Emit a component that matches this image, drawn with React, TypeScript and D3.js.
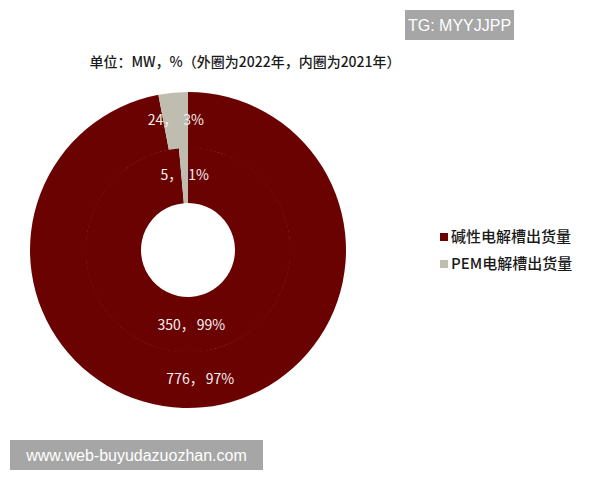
import React from "react";
import * as d3 from "d3";

const categories = ["碱性电解槽出货量", "PEM电解槽出货量"];
const outer2022 = [776, 24];
const outerPct = ["97%", "3%"];
const inner2021 = [350, 5];
const innerPct = ["99%", "1%"];
const colors = ["#6a0202", "#bebdb0"];
const title = "单位：MW，%（外圈为2022年，内圈为2021年）";

const W = 600, H = 480;
const cx = 188, cy = 250;
const rHole = 47, rMid = 102, rOuter = 158;
const font = "'Noto Sans CJK SC', 'Noto Sans', sans-serif";

export default function App() {
  const pie = d3.pie<number>().sort(null).startAngle(0).endAngle(2 * Math.PI);
  const outerArcs = pie(outer2022);
  const innerArcs = pie(inner2021);
  const outerArc = d3.arc<d3.PieArcDatum<number>>().innerRadius(rMid).outerRadius(rOuter);
  const innerArc = d3.arc<d3.PieArcDatum<number>>().innerRadius(rHole).outerRadius(rMid + 0.5);

  const label = (v: number, p: string) => (
    <>
      <tspan>{v}，</tspan>
      <tspan dx={p.length < 3 ? 6 : 2}>{p}</tspan>
    </>
  );

  return (
    <svg width={W} height={H} style={{ position: "absolute", left: 0, top: 0, background: "#fff" }}>
      <rect x={0} y={0} width={W} height={H} fill="#fff" />
      <text x={245} y={67} textAnchor="middle" fontSize={14} fontWeight={500} fontFamily={font} fill="#1a1a1a">
        {title}
      </text>
      <g transform={`translate(${cx},${cy})`}>
        {innerArcs.map((a, i) => (
          <path key={"i" + i} d={innerArc(a) || ""} fill={colors[i]} />
        ))}
        {outerArcs.map((a, i) => (
          <path key={"o" + i} d={outerArc(a) || ""} fill={colors[i]} stroke="rgba(255,255,255,0.03)" strokeWidth={0.6} />
        ))}
        {outerArcs.map((a, i) => {
          const [x, y] = outerArc.centroid(a);
          return (
            <text key={"ol" + i} x={x} y={y} dy="0.35em" textAnchor="middle" fontSize={14} fontFamily={font} fill="#f6f0f0">
              {label(outer2022[i], outerPct[i])}
            </text>
          );
        })}
        {innerArcs.map((a, i) => {
          const [x, y] = innerArc.centroid(a);
          return (
            <text key={"il" + i} x={x} y={y} dy="0.35em" textAnchor="middle" fontSize={14} fontFamily={font} fill="#f6f0f0">
              {label(inner2021[i], innerPct[i])}
            </text>
          );
        })}
      </g>
      <g>
        {categories.map((c, i) => (
          <g key={c} transform={`translate(440,${237 + i * 27})`}>
            <rect x={0} y={-4} width={8} height={8} fill={colors[i]} />
            <text x={11} y={0} dy="0.35em" fontSize={15} fontWeight={500} fontFamily={font} fill="#1a1a1a">
              {c}
            </text>
          </g>
        ))}
      </g>
      <rect x={405} y={10} width={109} height={30} fill="#a6a6a6" />
      <text x={459.5} y={25} dy="0.35em" textAnchor="middle" fontSize={16} fontFamily="'Liberation Sans', Arial, sans-serif" fill="#fff">
        TG: MYYJJPP
      </text>
      <rect x={10} y={440} width={253} height={30} fill="#a6a6a6" />
      <text x={136.5} y={455} dy="0.35em" textAnchor="middle" fontSize={16} fontFamily="'Liberation Sans', Arial, sans-serif" fill="#fff">
        www.web-buyudazuozhan.com
      </text>
    </svg>
  );
}
